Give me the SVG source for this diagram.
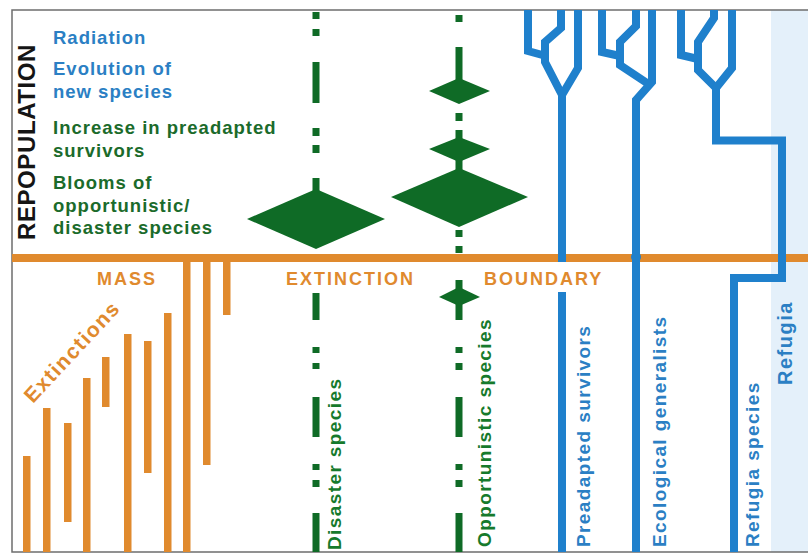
<svg xmlns="http://www.w3.org/2000/svg" width="808" height="555" viewBox="0 0 808 555">
<style>
.or{fill:#e08a2e}
.gr{fill:#0f6b26}
.bl{fill:none;stroke:#1f80cc;stroke-width:8;stroke-linejoin:miter;stroke-miterlimit:4;stroke-linecap:butt}
.t{font-family:"Liberation Sans",Arial,sans-serif;font-weight:bold}
.tb{fill:#2b7fc4}
.tg{fill:#1b6b2b}
.tgv{fill:#167a2c}
.to{fill:#e08a2e;font-size:18px;letter-spacing:2px}
.th{font-size:18.5px;letter-spacing:1px}
.tv{font-size:19px;letter-spacing:1.4px}
</style>
<rect width="808" height="555" fill="#fff"/>
<rect id="refugia-zone" x="771" y="10" width="37" height="542" fill="#e4f0fa"/>
<rect id="frame" x="12" y="10" width="800" height="542" fill="none" stroke="#6d6d6d" stroke-width="1.5"/>

<g id="boundary-line">
<rect class="or" x="12" y="254" width="796" height="8"/>
</g>

<g id="extinctions">
<rect class="or" x="23" y="456" width="7.5" height="96"/>
<rect class="or" x="43" y="408" width="7.5" height="144"/>
<rect class="or" x="64" y="423" width="7.5" height="99"/>
<rect class="or" x="83" y="378" width="7.5" height="174"/>
<rect class="or" x="102" y="357" width="7.5" height="50"/>
<rect class="or" x="124" y="334" width="7.5" height="218"/>
<rect class="or" x="144" y="341" width="7.5" height="132"/>
<rect class="or" x="164" y="313" width="7.5" height="239"/>
<rect class="or" x="183" y="258" width="7.5" height="294"/>
<rect class="or" x="203" y="258" width="7.5" height="207"/>
<rect class="or" x="223" y="258" width="7.5" height="57"/>
</g>

<g id="disaster-species">
<rect class="gr" x="312.5" y="12" width="7" height="7"/>
<rect class="gr" x="312.5" y="29" width="7" height="7"/>
<rect class="gr" x="312.5" y="62" width="7" height="41"/>
<rect class="gr" x="312.5" y="128" width="7" height="8"/>
<rect class="gr" x="312.5" y="145" width="7" height="8"/>
<rect class="gr" x="312.5" y="178" width="7" height="16"/>
<polygon class="gr" points="247,219 316,189 385,219 316,249"/>
<rect class="gr" x="312.5" y="293" width="7" height="27"/>
<rect class="gr" x="312.5" y="347" width="7" height="6"/>
<rect class="gr" x="312.5" y="363" width="7" height="6"/>
<rect class="gr" x="312.5" y="397" width="7" height="40"/>
<rect class="gr" x="312.5" y="464" width="7" height="6"/>
<rect class="gr" x="312.5" y="480" width="7" height="7"/>
<rect class="gr" x="312.5" y="513" width="7" height="39"/>
</g>

<g id="opportunistic-species">
<rect class="gr" x="455.5" y="15" width="7" height="7"/>
<rect class="gr" x="455.5" y="47" width="7" height="34"/>
<polygon class="gr" points="429,91 459,78 490,91 459,104"/>
<rect class="gr" x="455.5" y="113" width="7" height="8"/>
<rect class="gr" x="455.5" y="130" width="7" height="9"/>
<polygon class="gr" points="429,149 459,137 490,149 459,162"/>
<rect class="gr" x="455.5" y="160" width="7" height="10"/>
<polygon class="gr" points="391,197 459,168 528,197 459,227"/>
<rect class="gr" x="455.5" y="230" width="7" height="7"/>
<rect class="gr" x="455.5" y="246" width="7" height="7"/>
<rect class="gr" x="455.5" y="280" width="7" height="40"/>
<polygon class="gr" points="439,297 459,287 480,297 459,306"/>
<rect class="gr" x="455.5" y="347" width="7" height="6"/>
<rect class="gr" x="455.5" y="363" width="7" height="7"/>
<rect class="gr" x="455.5" y="397" width="7" height="40"/>
<rect class="gr" x="455.5" y="464" width="7" height="6"/>
<rect class="gr" x="455.5" y="480" width="7" height="7"/>
<rect class="gr" x="455.5" y="513" width="7" height="39"/>
</g>

<g id="preadapted-survivors">
<polyline class="bl" points="528,10 528,51 546,56"/>
<polyline class="bl" points="561,10 561,28 545,42 545,62 562,95"/>
<polyline class="bl" points="578,10 578,68 562,95 562,262"/>
<line class="bl" x1="562" y1="292" x2="562" y2="552"/>
</g>

<g id="ecological-generalists">
<polyline class="bl" points="602,10 602,52 620,56"/>
<polyline class="bl" points="636,10 636,26 620,42 620,65 650,85"/>
<polyline class="bl" points="652,10 652,82 636,100 636,552"/>
<circle cx="636" cy="257" r="5" fill="#1f80cc"/>
</g>

<g id="refugia-species">
<polyline class="bl" points="681,10 681,55 698,59"/>
<polyline class="bl" points="714,10 714,18 698,42 698,70 716,88"/>
<polyline class="bl" points="732,10 732,68 716,88 716,140.5 782,140.5 782,278 734,278 734,552"/>
</g>

<g id="labels">
<text class="t" transform="translate(35,142) rotate(-90)" text-anchor="middle" font-size="24" letter-spacing="0.6" fill="#151515">REPOPULATION</text>
<text class="t th tb" x="53" y="44">Radiation</text>
<text class="t th tb" x="53" y="75">Evolution of</text>
<text class="t th tb" x="53" y="98">new species</text>
<text class="t th tg" x="53" y="134">Increase in preadapted</text>
<text class="t th tg" x="53" y="157">survivors</text>
<text class="t th tg" x="53" y="189">Blooms of</text>
<text class="t th tg" x="53" y="212">opportunistic/</text>
<text class="t th tg" x="53" y="234">disaster species</text>
<text class="t to" x="97" y="285">MASS</text>
<text class="t to" x="286" y="285">EXTINCTION</text>
<text class="t to" x="484" y="285">BOUNDARY</text>
<text class="t" transform="translate(33,404) rotate(-47)" font-size="21" letter-spacing="1.5" fill="#e08a2e">Extinctions</text>
<text class="t tv tgv" transform="translate(341,550) rotate(-90)">Disaster species</text>
<text class="t tv tgv" transform="translate(491,547) rotate(-90)">Opportunistic species</text>
<text class="t tv tb" transform="translate(590,547) rotate(-90)">Preadapted survivors</text>
<text class="t tv tb" transform="translate(666,547) rotate(-90)">Ecological generalists</text>
<text class="t tv tb" transform="translate(759,547) rotate(-90)">Refugia species</text>
<text class="t tb" transform="translate(792,385) rotate(-90)" font-size="20" letter-spacing="1.5">Refugia</text>
</g>
</svg>
